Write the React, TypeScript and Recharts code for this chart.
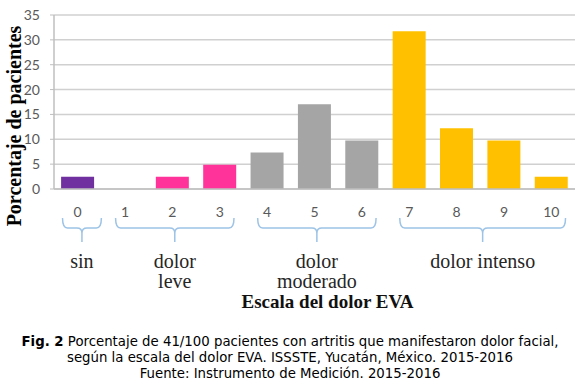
import React from "react";
import { BarChart, Bar, XAxis, YAxis, CartesianGrid, Cell } from "recharts";

// Escala EVA 0-10, porcentaje de 41 pacientes
const categories = ["0", "1", "2", "3", "4", "5", "6", "7", "8", "9", "10"];
const values = [2.44, 0, 2.44, 4.88, 7.32, 17.07, 9.76, 31.71, 12.2, 9.76, 2.44];
const groupOf = [0, 1, 1, 1, 2, 2, 2, 3, 3, 3, 3];
const groupLabels = [["sin"], ["dolor", "leve"], ["dolor", "moderado"], ["dolor intenso"]];
const groupColors = ["#7030A0", "#FF3399", "#A5A5A5", "#FFC000"];
const yTicks = [0, 5, 10, 15, 20, 25, 30, 35];

const data = categories.map((c, i) => ({ name: c, value: values[i], group: groupOf[i] }));

const W = 580;
const H = 320;
const MARGIN = { top: 15, right: 5, left: 0, bottom: 10 };
const Y_AXIS_W = 54;
const BAND = (W - MARGIN.left - MARGIN.right - Y_AXIS_W) / categories.length;

const serif = "'Liberation Serif', 'Times New Roman', serif";
const sans = "Lato, Calibri, sans-serif";

const EvaTick = (props: any) => {
  const { x, y, payload, index } = props;
  const g = groupOf[index];
  const first = groupOf.indexOf(g);
  const last = groupOf.lastIndexOf(g);
  let bracket = null;
  if (index === first) {
    const padL = first === last ? 0.32 : 0.2;
    const padR = first === last ? 0.5 : 0.3;
    const xs = x - BAND * padL;
    const xe = x + (last - first) * BAND + BAND * padR;
    const cx = (xs + xe) / 2;
    const y0 = y + 29;
    const y1 = y + 39;
    const y2 = y + 53;
    const r = 5;
    const d =
      `M${xs},${y0} Q${xs},${y1} ${xs + r},${y1} L${cx - r},${y1} Q${cx},${y1} ${cx},${y1 + r} L${cx},${y2} ` +
      `M${cx},${y1 + r} Q${cx},${y1} ${cx + r},${y1} L${xe - r},${y1} Q${xe},${y1} ${xe},${y0}`;
    bracket = (
      <g>
        <path d={d} fill="none" stroke="#9DC3E6" strokeWidth={1.5} />
        {groupLabels[g].map((line, k) => (
          <text key={k} x={cx} y={y + 79 + k * 20} textAnchor="middle" fontFamily={serif} fontSize={20} fill="#262626">
            {line}
          </text>
        ))}
      </g>
    );
  }
  return (
    <g>
      <text x={x} y={y + 28} textAnchor="middle" fontFamily={sans} fontSize={14} fill="#595959">
        {payload.value}
      </text>
      {bracket}
    </g>
  );
};

export default function App() {
  return (
    <div style={{ position: "absolute", left: 0, top: 0, width: 580, height: 392, background: "#fff" }}>
      <BarChart width={W} height={H} data={data} margin={MARGIN} barCategoryGap="15%">
        <CartesianGrid vertical={false} stroke="#D0D0D0" strokeWidth={1.5} />
        <XAxis
          dataKey="name"
          tick={<EvaTick />}
          tickLine={false}
          tickSize={0}
          tickMargin={0}
          height={121}
          interval={0}
          axisLine={{ stroke: "#BFBFBF", strokeWidth: 1.5 }}
          label={(p: any) => {
            const vb = p.viewBox;
            return (
              <text x={vb.x + vb.width / 2 + 13} y={308} textAnchor="middle" fontFamily={serif} fontWeight="bold" fontSize={19} fill="#111">
                Escala del dolor EVA
              </text>
            );
          }}
        />
        <YAxis
          width={Y_AXIS_W}
          domain={[0, 35]}
          ticks={yTicks}
          interval={0}
          tickSize={4}
          tickMargin={10}
          tickLine={{ stroke: "#BFBFBF" }}
          axisLine={{ stroke: "#BFBFBF", strokeWidth: 1.5 }}
          tick={{ fontFamily: sans, fontSize: 14, fill: "#595959" }}
          label={() => (
            <text x={21} y={126} transform="rotate(-90, 21, 126)" textAnchor="middle" fontFamily={serif} fontWeight="bold" fontSize={20} fill="#000">
              Porcentaje de pacientes
            </text>
          )}
        />
        <Bar dataKey="value" isAnimationActive={false}>
          {data.map((d, i) => (
            <Cell key={i} fill={groupColors[d.group]} />
          ))}
        </Bar>
      </BarChart>
      <div
        style={{
          position: "absolute",
          left: 0,
          top: 334,
          width: 580,
          textAlign: "center",
          fontFamily: "Verdana, 'DejaVu Sans', sans-serif",
          fontSize: 13.3,
          lineHeight: "16px",
          color: "#000",
        }}
      >
        <b>Fig. 2</b> Porcentaje de 41/100 pacientes con artritis que manifestaron dolor facial,
        <br />
        según la escala del dolor EVA. ISSSTE, Yucatán, México. 2015-2016
        <br />
        Fuente: Instrumento de Medición. 2015-2016
      </div>
    </div>
  );
}
